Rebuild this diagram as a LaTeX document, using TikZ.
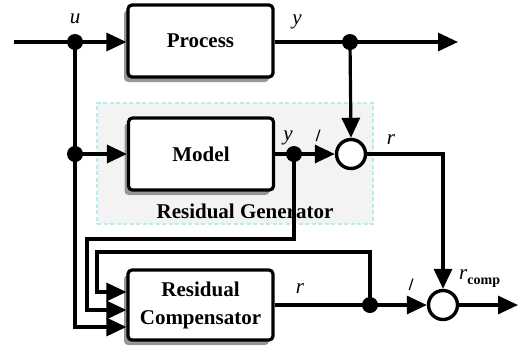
\documentclass[tikz,border=0pt]{standalone}
\usepackage{fontspec}
\setmainfont{Liberation Serif}
\usetikzlibrary{arrows.meta,shadows}
\definecolor{shade}{RGB}{150,150,150}
\definecolor{genfill}{RGB}{243,243,243}
\definecolor{genedge}{RGB}{180,238,240}
\begin{document}
\begin{tikzpicture}[x=1pt,y=-1pt,
  wire/.style={line width=3.2pt},
  sig/.style={wire,-{Triangle[length=20pt,width=18pt]}},
  blk/.style={draw,line width=3.2pt,rounded corners=4pt,fill=white,
    minimum width=145pt,minimum height=72pt,align=center,
    font=\fontsize{21}{28}\selectfont\bfseries,
    drop shadow={shadow xshift=-4pt,shadow yshift=-5pt,fill=shade,opacity=1}},
  sumpt/.style={circle,draw,line width=3.4pt,fill=white,minimum size=29pt,inner sep=0pt},
  dot/.style={circle,fill,inner sep=0pt,minimum size=16pt},
  lbl/.style={font=\fontsize{21}{24}\selectfont\itshape,inner sep=0pt},
  sgn/.style={font=\fontsize{26}{28}\selectfont,inner sep=0pt,rotate=72},
  genbox/.style={draw=genedge,fill=genfill,dashed,line width=1.2pt,
    dash pattern=on 4pt off 2.5pt,minimum width=276pt,minimum height=121pt,inner sep=0pt}]
\useasboundingbox (0,0) rectangle (526,354);

% residual generator frame
\node[genbox] (gen) at (235,163.5) {};
\node[font=\fontsize{21}{24}\selectfont\bfseries,inner sep=0pt] (genlbl) at (245,211) {Residual Generator};

% blocks
\node[blk] (proc) at (200.5,41) {Process};
\node[blk] (model) at (201,154) {Model};
\node[blk,minimum height=70pt] (comp) at (200.5,305) {Residual\\Compensator};

% summing points and branch dots
\node[sumpt] (s1) at (351,154) {};
\node[sumpt] (s2) at (443,305) {};
\node[dot] (du) at (75,42) {};
\node[dot] (dm) at (75,154) {};
\node[dot] (dy) at (350,42) {};
\node[dot] (dym) at (294,154) {};
\node[dot] (dr) at (370,305) {};

% free ends
\coordinate (in) at (14,42);
\coordinate (yout) at (458,42);
\coordinate (rout) at (518,305);

% forward paths
\draw[wire] (in) -- (du.center);
\draw[sig] (du.center) -- (proc.west |- du);
\draw[sig] (proc.east |- dy) -- (yout);
\draw[sig] (dy.center) -- (s1.north);
\draw[sig] (dm.center) -- (model.west |- dm);
\draw[wire] (model.east |- dym) -- (dym.center);
\draw[sig] (dym.center) -- (s1.west);
\draw[sig] (s1.east) -| (s2.north);
\draw[wire] (comp.east |- dr) -- (dr.center);
\draw[sig] (dr.center) -- (s2.west);
\draw[sig] (s2.east) -- (rout);

% inputs of the compensator
\draw[sig] (dr.center) -- (370,252) -- (97,252) -- (97,292) -- (comp.west |- 0,292);
\draw[sig] (dym.center) -- (294,239) -- (87,239) -- (87,310) -- (comp.west |- 0,310);
\draw[sig] (du.center) -- (75,327) -- (comp.west |- 0,327);

% signal labels
\node[lbl] (lu) at (75,19) {u};
\node[lbl] (ly) at (297,22) {y};
\node[lbl] (lym) at (288,138) {y};
\node[sgn] (m1) at (322,137) {\textminus};
\node[lbl] (lr) at (391,140) {r};
\node[lbl] (lrc) at (300,289) {r};
\node[sgn] (m2) at (415,286) {\textminus};
\node[lbl,anchor=west] (lrcomp) at (459,279) {r\raisebox{-5pt}{\fontsize{14}{16}\selectfont\upshape\bfseries comp}};
\end{tikzpicture}
\end{document}
